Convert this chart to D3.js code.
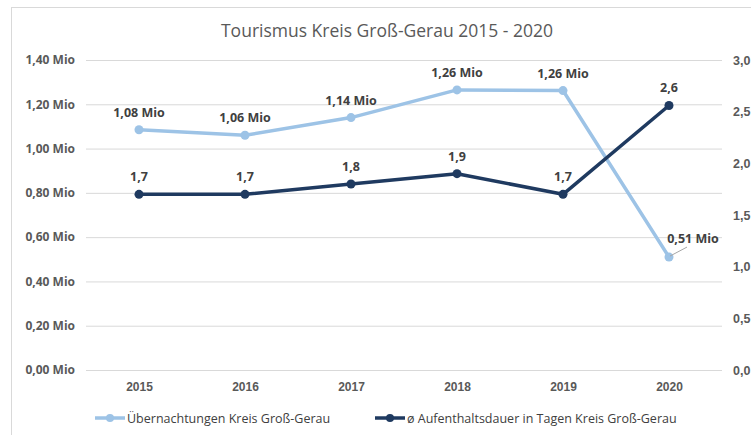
<!DOCTYPE html>
<html>
<head>
<meta charset="utf-8">
<script src="https://cdn.jsdelivr.net/npm/d3@7"></script>
<style>
  body { margin: 0; background: #fff; }
  svg { display: block; font-family: "Open Sans", "Liberation Sans", sans-serif; }
</style>
</head>
<body>
<svg id="chart" width="751" height="435"></svg>
<script>
// Data
const years = ['2015', '2016', '2017', '2018', '2019', '2020'];
const overnightStays = [1.085, 1.06, 1.14, 1.265, 1.262, 0.51];   // Mio
const stayDuration = [1.7, 1.7, 1.8, 1.9, 1.7, 2.56];             // days
const leftTicks = [0, 0.2, 0.4, 0.6, 0.8, 1.0, 1.2, 1.4];
const rightTicks = [0, 0.5, 1.0, 1.5, 2.0, 2.5, 3.0];
const seriesNames = ['Übernachtungen Kreis Groß-Gerau', 'ø Aufenthaltsdauer in Tagen Kreis Groß-Gerau'];

const lightBlue = '#9dc3e6';
const darkBlue = '#1f3a60';
const textGray = '#595959';
const labelGray = '#404040';

const svg = d3.select('#chart');
const margin = { top: 60, right: 29, bottom: 65, left: 86 };
const width = 751 - margin.left - margin.right;
const height = 435 - margin.top - margin.bottom;

// Chart frame (left and top edges visible)
svg.append('rect')
  .attr('x', 11.5).attr('y', 7.5)
  .attr('width', 800).attr('height', 500)
  .attr('fill', 'none')
  .attr('stroke', '#d9d9d9');

// Title
svg.append('text')
  .attr('x', 387).attr('y', 37)
  .attr('text-anchor', 'middle')
  .attr('font-size', 17.5)
  .attr('fill', textGray)
  .text('Tourismus Kreis Groß-Gerau 2015 - 2020');

const g = svg.append('g').attr('transform', `translate(${margin.left},${margin.top})`);

const x = d3.scalePoint().domain(years).range([0, width]).padding(0.5);
const yLeft = d3.scaleLinear().domain([0, 1.4]).range([height, 0]);
const yRight = d3.scaleLinear().domain([0, 3.0]).range([height, 0]);

const de = d3.formatLocale({ decimal: ',', thousands: '.', grouping: [3], currency: ['', '€'] });
const fmtLeft = d => de.format('.2f')(d) + ' Mio';
const fmtRight = d => de.format('.1f')(d);

// Grid lines
g.append('g')
  .call(d3.axisLeft(yLeft).tickValues(leftTicks).tickSize(-width).tickFormat(''))
  .call(a => a.select('.domain').remove())
  .selectAll('line')
  .attr('stroke', '#d9d9d9');

// Left axis labels
g.append('g')
  .call(d3.axisLeft(yLeft).tickValues(leftTicks).tickSize(0).tickPadding(11).tickFormat(fmtLeft))
  .call(a => a.select('.domain').remove())
  .selectAll('text')
  .attr('font-size', 12).attr('font-weight', 'bold').attr('fill', textGray)
  .attr('font-family', '"Open Sans", sans-serif');

// Right axis labels
g.append('g')
  .attr('transform', `translate(${width},0)`)
  .call(d3.axisRight(yRight).tickValues(rightTicks).tickSize(0).tickPadding(11).tickFormat(fmtRight))
  .call(a => a.select('.domain').remove())
  .selectAll('text')
  .attr('font-size', 12.5).attr('font-weight', 'bold').attr('fill', textGray);

// X axis labels
g.append('g')
  .attr('transform', `translate(0,${height})`)
  .call(d3.axisBottom(x).tickSize(0).tickPadding(12))
  .call(a => a.select('.domain').remove())
  .selectAll('text')
  .attr('font-size', 12).attr('font-weight', 'bold').attr('fill', textGray);

// Lines
const lineLeft = d3.line().x((d, i) => x(years[i])).y(d => yLeft(d));
const lineRight = d3.line().x((d, i) => x(years[i])).y(d => yRight(d));

g.append('path').datum(overnightStays)
  .attr('d', lineLeft).attr('fill', 'none')
  .attr('stroke', lightBlue).attr('stroke-width', 3.5).attr('stroke-linejoin', 'round');

g.append('path').datum(stayDuration)
  .attr('d', lineRight).attr('fill', 'none')
  .attr('stroke', darkBlue).attr('stroke-width', 3.5).attr('stroke-linejoin', 'round');

g.selectAll('.pt-left').data(overnightStays).enter().append('circle')
  .attr('cx', (d, i) => x(years[i])).attr('cy', d => yLeft(d)).attr('r', 4.5)
  .attr('fill', lightBlue);

g.selectAll('.pt-right').data(stayDuration).enter().append('circle')
  .attr('cx', (d, i) => x(years[i])).attr('cy', d => yRight(d)).attr('r', 4.5)
  .attr('fill', darkBlue);

// Data labels
const labelSize = 12.5;
g.selectAll('.lbl-left').data(overnightStays).enter().append('text')
  .attr('x', (d, i) => i === 5 ? x(years[i]) + 24 : x(years[i]))
  .attr('y', (d, i) => i === 5 ? yLeft(d) - 14 : yLeft(d) - 13)
  .attr('text-anchor', 'middle')
  .attr('font-size', labelSize).attr('font-weight', 'bold').attr('fill', labelGray)
  .text(d => de.format('.2f')(d) + ' Mio');

// Leader line for the last label
g.append('line')
  .attr('x1', x(years[5]) + 1).attr('y1', yLeft(overnightStays[5]) - 1)
  .attr('x2', x(years[5]) + 18).attr('y2', yLeft(overnightStays[5]) - 10)
  .attr('stroke', '#a6a6a6').attr('stroke-width', 1);

g.selectAll('.lbl-right').data(stayDuration).enter().append('text')
  .attr('x', (d, i) => x(years[i]))
  .attr('y', d => yRight(d) - 13)
  .attr('text-anchor', 'middle')
  .attr('font-size', labelSize).attr('font-weight', 'bold').attr('fill', labelGray)
  .text(d => fmtRight(d));

// Legend
const legend = svg.append('g').attr('transform', 'translate(0,418)');
const legendItems = [
  { name: seriesNames[0], color: lightBlue, x: 95 },
  { name: seriesNames[1], color: darkBlue, x: 375 }
];
legendItems.forEach(item => {
  legend.append('line')
    .attr('x1', item.x).attr('x2', item.x + 30).attr('y1', 0).attr('y2', 0)
    .attr('stroke', item.color).attr('stroke-width', 3.5);
  legend.append('circle')
    .attr('cx', item.x + 15).attr('cy', 0).attr('r', 4)
    .attr('fill', item.color);
  legend.append('text')
    .attr('x', item.x + 32).attr('y', 4.5)
    .attr('font-size', 12.5).attr('fill', labelGray)
    .text(item.name);
});
</script>
</body>
</html>
